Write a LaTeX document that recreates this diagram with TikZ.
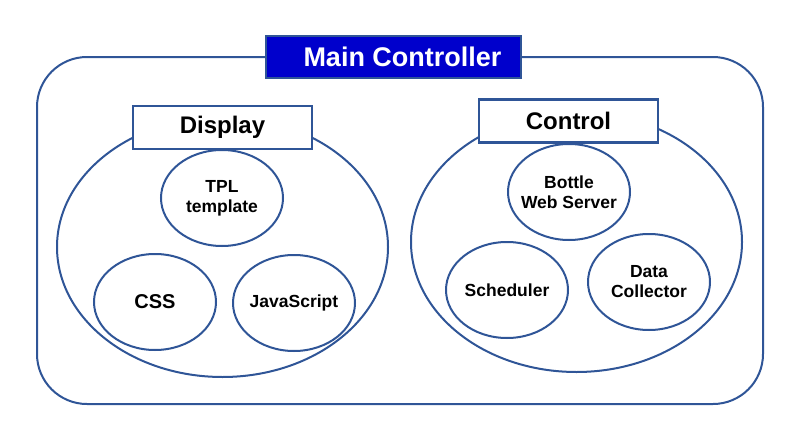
\documentclass[tikz,border=0pt]{standalone}
\usepackage{fontspec}
\setmainfont{Liberation Sans}
\usepackage{tikz}
\usetikzlibrary{positioning,shapes}

\definecolor{edgeblue}{HTML}{2F5597}
\definecolor{headblue}{HTML}{0000CC}

\begin{document}
\begin{tikzpicture}[x=1pt,y=-1pt]
	\tikzstyle{group}
	  =[draw=edgeblue, line width=2pt, ellipse, inner sep=0pt,
	  minimum width=331pt, minimum height=260pt]
	\tikzstyle{part}
	  =[draw=edgeblue, line width=2pt, ellipse, inner sep=-15pt,
	  minimum width=122pt, minimum height=96pt, align=center,
	  font=\fontsize{17.5}{20}\selectfont\bfseries]
	\tikzstyle{title}
	  =[draw=edgeblue, line width=2.4pt, fill=white, rectangle,
	  minimum width=179pt, minimum height=43pt,
	  font=\fontsize{24}{28}\selectfont\bfseries]

	\useasboundingbox (0,0) rectangle (790,447);

	\node[draw=edgeblue, line width=2pt, rectangle, rounded corners=50pt,
	  minimum width=726pt, minimum height=347pt] (main)
	  at (400,230.5) {};

	% Display side
	\node[group] (display)
	  at (222.5,247) {};
	\node[title] (displaybox)
	  at (222.5,127.5) {Display};
	\node[part] (tpl)
	  at (222,198) {TPL\\template};
	\node[part, font=\fontsize{20}{24}\selectfont\bfseries] (css)
	  at (155,302) {CSS};
	\node[part] (js)
	  at (294,303) {JavaScript};

	% Control side
	\node[group] (control)
	  at (576.5,242) {};
	\node[title] (controlbox)
	  at (568.5,121) {Control};
	\node[part] (bottle)
	  at (569,192) {Bottle\\Web Server};
	\node[part] (sched)
	  at (507,290) {Scheduler};
	\node[part] (collector)
	  at (649,282) {Data\\Collector};

	\node[draw=edgeblue, line width=2.4pt, fill=headblue, text=white,
	  minimum width=255pt, minimum height=42pt,
	  font=\fontsize{27}{32}\selectfont\bfseries] (head)
	  at (393.5,57) {\hspace*{18pt}Main Controller};
\end{tikzpicture}
\end{document}
